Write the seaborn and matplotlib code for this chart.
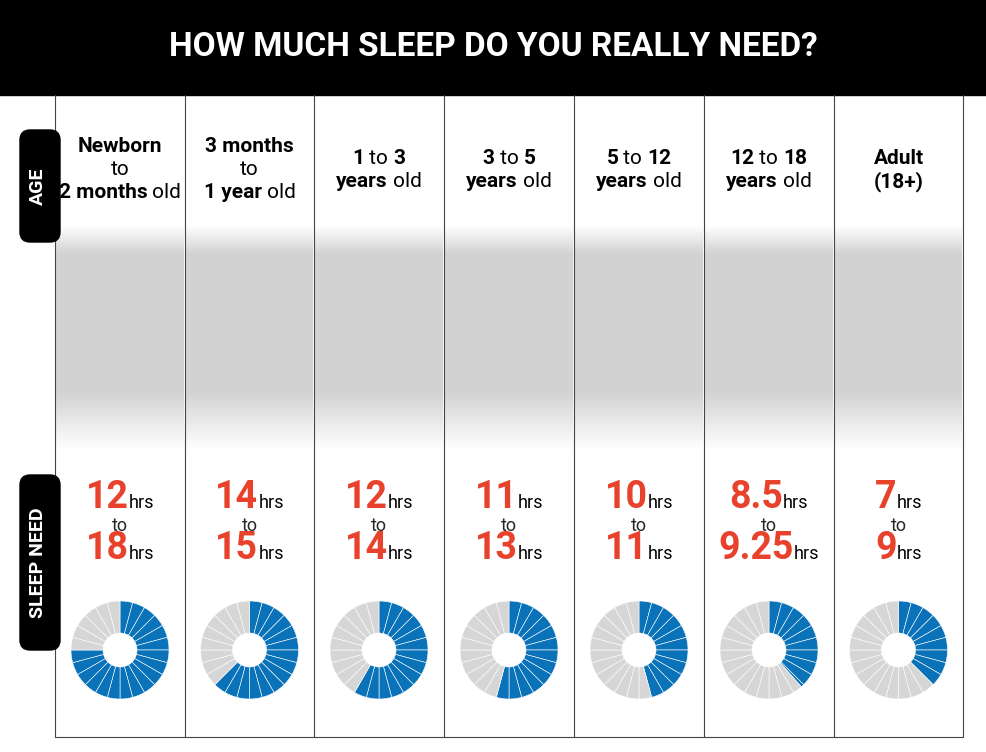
import matplotlib
matplotlib.use("Agg")
import matplotlib.pyplot as plt
import seaborn as sns
import numpy as np
from matplotlib.patches import FancyBboxPatch, Rectangle

sns.set_theme(style="white")

ages = [
    [[("Newborn", "bold")], [("to", "normal")], [("2 months", "bold"), (" old", "normal")]],
    [[("3 months", "bold")], [("to", "normal")], [("1 year", "bold"), (" old", "normal")]],
    [[("1", "bold"), (" to ", "normal"), ("3", "bold")], [("years", "bold"), (" old", "normal")]],
    [[("3", "bold"), (" to ", "normal"), ("5", "bold")], [("years", "bold"), (" old", "normal")]],
    [[("5", "bold"), (" to ", "normal"), ("12", "bold")], [("years", "bold"), (" old", "normal")]],
    [[("12", "bold"), (" to ", "normal"), ("18", "bold")], [("years", "bold"), (" old", "normal")]],
    [[("Adult", "bold")], [("(18+)", "bold")]],
]
min_hrs_label = ["12", "14", "12", "11", "10", "8.5", "7"]
max_hrs_label = ["18", "15", "14", "13", "11", "9.25", "9"]
max_hrs = [18, 15, 14, 13, 11, 9.25, 9]

W, H = 987, 752
fig = plt.figure(figsize=(W/100, H/100), dpi=100)
ax = fig.add_axes([0, 0, 1, 1])
ax.set_xlim(0, W); ax.set_ylim(H, 0); ax.axis("off")
FONT = "Roboto"
RED = "#e8412c"; BLUE = "#0a72b9"; GREY = "#d6d6d6"

ax.add_patch(Rectangle((0, 0), W, 95, color="black"))
ax.text(W/2, 47, "HOW MUCH SLEEP DO YOU REALLY NEED?", color="white", fontsize=24,
        fontweight="bold", family=FONT, ha="center", va="center")

edges = [55, 185, 314, 444, 574, 704, 834, 963]
for e in edges:
    ax.plot([e, e], [95, 737], color="#444444", lw=0.8, zorder=2)
ax.plot([55, 963], [737, 737], color="#444444", lw=0.8)

# photo placeholder band
grad = np.concatenate([np.linspace(0, 1, 30), np.ones(140), np.linspace(1, 0, 60)])
img = np.ones((len(grad), 10, 4)); img[..., :3] = 0.5; img[..., 3] = (grad * 0.35)[:, None]
for i in range(7):
    ax.imshow(img, extent=(edges[i] + 1, edges[i+1] - 1, 450, 225), aspect="auto", zorder=1)

for (y0, y1, lab) in [(130, 242, "AGE"), (475, 650, "SLEEP NEED")]:
    ax.add_patch(FancyBboxPatch((20, y0), 40, y1 - y0, boxstyle="round,pad=0,rounding_size=10",
                                color="black", zorder=3))
    ax.text(38, (y0 + y1)/2, lab, color="white", rotation=90, fontsize=14, fontweight="bold",
            family=FONT, ha="center", va="center", zorder=4)

fig.canvas.draw()
r = fig.canvas.get_renderer()

def mixed(xc, y, segs):
    arts = []
    for t, w, size, col in segs:
        arts.append(ax.text(0, y, t, fontsize=size, fontweight=w, family=FONT, color=col,
                            va="baseline", ha="left"))
    widths = [a.get_window_extent(r).width for a in arts]
    x = xc - sum(widths)/2
    for a, wd in zip(arts, widths):
        a.set_x(x); x += wd

centers = [(edges[i] + edges[i+1])/2 for i in range(7)]
for i, c in enumerate(centers):
    lines = ages[i]
    y0 = 152 if len(lines) == 3 else 164
    for j, ln in enumerate(lines):
        mixed(c, y0 + j*23, [(t, w, 15, "black") for t, w in ln])
    mixed(c, 508, [(min_hrs_label[i], "bold", 27, RED), ("hrs", "normal", 13, "black")])
    ax.text(c, 526, "to", fontsize=13, family=FONT, ha="center", va="center")
    mixed(c, 559, [(max_hrs_label[i], "bold", 27, RED), ("hrs", "normal", 13, "black")])

    dax = fig.add_axes([(c - 50)/W, 1 - (650 + 50)/H, 100/W, 100/H])
    full = int(max_hrs[i]); frac = max_hrs[i] - full
    sizes = [1]*full + ([frac] if frac else []) + ([1 - frac] if frac else []) + [1]*(24 - full - (1 if frac else 0))
    cols = [BLUE]*full + ([BLUE] if frac else []) + ([GREY] if frac else []) + [GREY]*(24 - full - (1 if frac else 0))
    dax.pie(sizes, colors=cols, startangle=90, counterclock=False, radius=0.98,
            wedgeprops=dict(width=0.64, edgecolor="white", linewidth=0.4))
    dax.set_xlim(-1, 1); dax.set_ylim(-1, 1)
    dax.set_aspect("equal")

fig.savefig("out.png", dpi=100)
